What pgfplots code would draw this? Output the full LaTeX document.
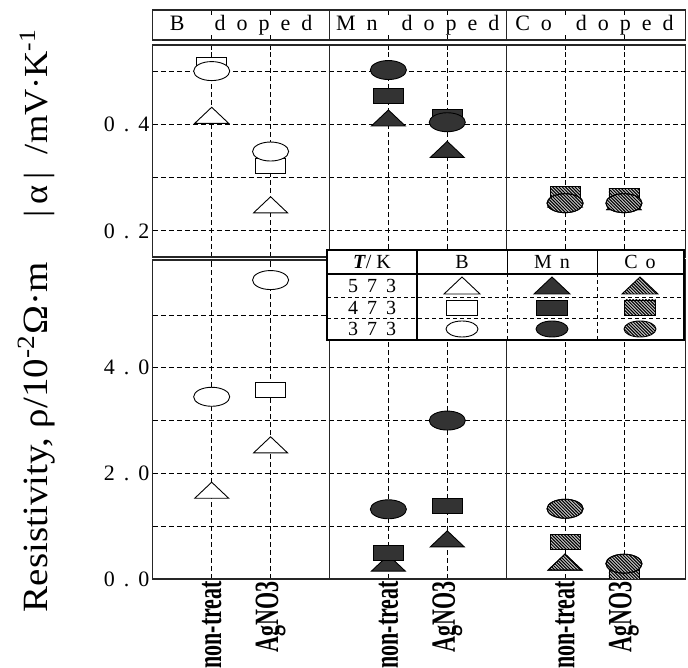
\documentclass[border=0pt]{standalone}
\usepackage{pgfplots}
\pgfplotsset{compat=1.18}
\usepackage{fontspec}
\setmainfont{Liberation Serif}
\usepackage{graphicx}
\usetikzlibrary{patterns}

% denser, heavier "\" hatching than north west lines
\pgfdeclarepatternformonly{hatch}{\pgfqpoint{-1pt}{-1pt}}{\pgfqpoint{4.2pt}{4.2pt}}{\pgfqpoint{3.2pt}{3.2pt}}{%
  \pgfsetlinewidth{1pt}%
  \pgfpathmoveto{\pgfqpoint{-0.1pt}{3.3pt}}%
  \pgfpathlineto{\pgfqpoint{3.3pt}{-0.1pt}}%
  \pgfusepath{stroke}}

\definecolor{mnfill}{gray}{0.2}
\newcommand\g{\hspace{9pt}}
\newcommand\hg{\hspace{11pt}}
\newcommand\xl[1]{\scalebox{2.2}[3.4]{\fontsize{10}{12}\selectfont\bfseries #1}}

\tikzset{
  legB/.style={fill=white},
  legM/.style={fill=mnfill},
  legC/.style={fill=gray!45, postaction={pattern=hatch}},
}

\pgfplotsset{
  panel/.style={
    scale only axis, width=533pt,
    xmin=-1, xmax=8.05,
    axis line style={line width=1.1pt, black!85},
    xtick={0,1,3,4,6,7},
    xmajorgrids, ymajorgrids,
    grid style={black, line width=0.8pt, dash pattern=on 5pt off 3pt},
    tick align=inside, major tick length=5pt,
    tick style={black, line width=0.8pt},
    extra x ticks={2,5}, extra x tick labels={},
    extra x tick style={grid=major, major grid style={solid, line width=1.1pt, black!85}, major tick length=0pt},
    yticklabel style={font=\fontsize{22}{26}\selectfont},
  },
  tri/.style={only marks, mark=triangle*, mark size=10.7pt,
    every mark/.append style={xscale=1.83, line width=0.9pt, draw=black}},
  rct/.style={only marks, mark=square*, mark size=7.5pt,
    every mark/.append style={xscale=2, line width=0.9pt, draw=black}},
  ell/.style={only marks, mark=*, mark size=9.5pt,
    every mark/.append style={xscale=1.9, line width=0.9pt, draw=black}},
  bst/.style={every mark/.append style={fill=white}},
  mst/.style={every mark/.append style={fill=mnfill}},
  cbg/.style={every mark/.append style={fill=gray!45}},
  cpt/.style={every mark/.append style={pattern=hatch}},
}

\begin{document}
\begin{tikzpicture}
\useasboundingbox (0pt,0pt) rectangle (688pt,668pt);

% header strip
\begin{axis}[panel, at={(152.8pt,628pt)}, anchor=south west, height=30pt,
  ymin=0, ymax=1, ytick=\empty, xticklabels={}, xmajorgrids=false, ymajorgrids=false,
  extra x tick style={grid=major, major grid style={solid, line width=1.1pt, black!85}, major tick length=0pt}]
\node[font=\fontsize{22}{26}\selectfont] at (axis cs:0.5,0.5) {B\hspace{30pt}d\hg o\hg p\hg e\hg d};
\node[font=\fontsize{22}{26}\selectfont] at (axis cs:3.5,0.5) {M\hspace{11pt}n\hspace{24pt}d\hg o\hg p\hg e\hg d};
\node[font=\fontsize{22}{26}\selectfont] at (axis cs:6.5,0.5) {C\hspace{11pt}o\hspace{24pt}d\hg o\hg p\hg e\hg d};
\end{axis}

% Seebeck coefficient panel
\begin{axis}[panel, at={(152.8pt,411pt)}, anchor=south west, height=212pt,
  ymin=0.151, ymax=0.549, ytick={0.2,0.3,0.4,0.5},
  yticklabels={0\g.\g2,,0\g.\g4,}, xticklabels={}]
\addplot[tri, bst] coordinates {(0,0.412) (1,0.244)};
\addplot[rct, bst] coordinates {(0,0.512) (1,0.322)};
\addplot[ell, bst] coordinates {(0,0.500) (1,0.349)};
\addplot[tri, mst] coordinates {(3,0.407) (4,0.348)};
\addplot[rct, mst] coordinates {(3,0.453) (4,0.413)};
\addplot[ell, mst] coordinates {(3,0.502) (4,0.404)};
\addplot[tri, cbg] coordinates {(6,0.255) (7,0.250)};
\addplot[tri, cpt] coordinates {(6,0.255) (7,0.250)};
\addplot[rct, cbg] coordinates {(6,0.270) (7,0.265)};
\addplot[rct, cpt] coordinates {(6,0.270) (7,0.265)};
\addplot[ell, cbg] coordinates {(6,0.252) (7,0.252)};
\addplot[ell, cpt] coordinates {(6,0.252) (7,0.252)};
\end{axis}

% resistivity panel
\begin{axis}[panel, at={(152.8pt,89pt)}, anchor=south west, height=319pt,
  ymin=0, ymax=6.04, ytick={0,1,2,3,4,5},
  yticklabels={0\g.\g0,,2\g.\g0,,4\g.\g0,},
  xticklabels={\xl{non-treat},\xl{AgNO3},\xl{non-treat},\xl{AgNO3},\xl{non-treat},\xl{AgNO3}},
  xticklabel style={rotate=90, anchor=east, inner sep=2pt},
  clip marker paths=true]
\addplot[tri, bst] coordinates {(0,1.63) (1,2.49)};
\addplot[rct, bst] coordinates {(1,3.57)};
\addplot[ell, bst] coordinates {(0,3.45) (1,5.66)};
\addplot[tri, mst] coordinates {(3,0.25) (4,0.71)};
\addplot[rct, mst] coordinates {(3,0.50) (4,1.38)};
\addplot[ell, mst] coordinates {(3,1.32) (4,3.00)};
\addplot[tri, cbg] coordinates {(6,0.27) (7,0.06)};
\addplot[tri, cpt] coordinates {(6,0.27) (7,0.06)};
\addplot[rct, cbg] coordinates {(6,0.70) (7,0.08)};
\addplot[rct, cpt] coordinates {(6,0.70) (7,0.08)};
\addplot[ell, cbg] coordinates {(6,1.33) (7,0.29)};
\addplot[ell, cpt] coordinates {(6,1.33) (7,0.29)};
\end{axis}

% axis titles
\node[rotate=90] at (37pt,231pt) {\resizebox*{350pt}{37pt}{Resistivity, ρ/10\textsuperscript{-2}Ω·m}};
\node[rotate=90] at (37pt,545pt) {\resizebox*{190pt}{35pt}{|\,α\,|\ \ /mV·K\textsuperscript{-1}}};

% legend table
\begin{scope}[font=\fontsize{20}{22}\selectfont]
\fill[white] (327pt,328pt) rectangle (684pt,418pt);
\draw[dash pattern=on 4pt off 3pt, line width=0.8pt] (327pt,371pt) -- (684pt,371pt) (327pt,350pt) -- (684pt,350pt)
  (507pt,328pt) -- (507pt,394pt) (597pt,328pt) -- (597pt,394pt);
\draw[line width=1pt] (507pt,394pt) -- (507pt,418pt) (597pt,394pt) -- (597pt,418pt);
\draw[line width=1.1pt] (327pt,328pt) rectangle (684pt,418pt);
\draw[line width=1.1pt] (327pt,394pt) -- (684pt,394pt) (417pt,328pt) -- (417pt,418pt);
\node at (372pt,406pt) {\textbf{\textit{T}}/ K};
\node at (462pt,406pt) {B};
\node at (552pt,406pt) {M\hspace{8pt}n};
\node at (640pt,406pt) {C\hspace{8pt}o};
\node at (372pt,382.5pt) {5\g 7\g 3};
\node at (372pt,360.5pt) {4\g 7\g 3};
\node at (372pt,339pt) {3\g 7\g 3};
\foreach \cx/\st in {462/legB, 552/legM, 640/legC} {
  \draw[line width=0.9pt, \st] (\cx pt-18pt,374pt) -- (\cx pt+18pt,374pt) -- (\cx pt,391pt) -- cycle;
  \draw[line width=0.9pt, \st] (\cx pt-15.5pt,353pt) rectangle (\cx pt+15.5pt,368pt);
  \draw[line width=0.9pt, \st] (\cx pt,339pt) ellipse (16pt and 8pt);
}
\end{scope}
\end{tikzpicture}
\end{document}
